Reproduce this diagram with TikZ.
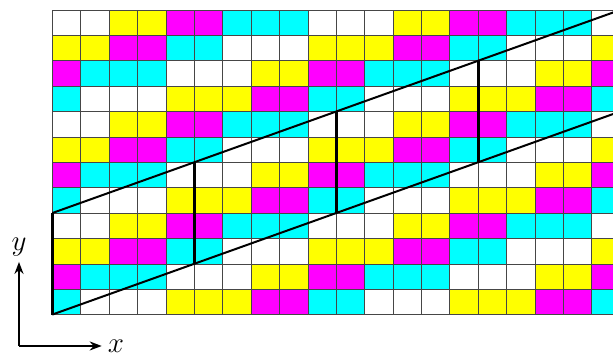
\documentclass[tikz,border=0pt]{standalone}
\usetikzlibrary{arrows.meta}

\definecolor{tile0}{RGB}{255,255,255}
\definecolor{tile1}{RGB}{255,255,0}
\definecolor{tile2}{RGB}{255,0,255}
\definecolor{tile3}{RGB}{0,255,255}

\begin{document}
\begin{tikzpicture}[x=1cm, y=0.894cm, >=Stealth,
    gridline/.style={gray!55!black, line width=0.6pt, step=1},
    strip/.style={line width=2pt},
    cutline/.style={line width=3pt},
    axis/.style={->, line width=2pt},
    axislabel/.style={font=\Huge, scale=1.17, inner sep=0pt}]
    \clip (-1.842,-1.565) rectangle (19.75,12.394);

    % Tile colours: one period of 4 rows x 10 columns (bottom row first)
    \def\tiles{{3,0,0,0,1,1,1,2,2,3,
                2,3,3,3,0,0,0,1,1,2,
                1,1,2,2,3,3,0,0,0,1,
                0,0,1,1,2,2,3,3,3,0}}
    \foreach \r in {0,...,11}
      \foreach \c in {0,...,19}{
        \pgfmathtruncatemacro\t{\tiles[10*mod(\r,4)+mod(\c,10)]}
        \fill[tile\t] (\c,\r) rectangle ++(1,1);
      }
    \draw[gridline] (0,0) grid (20,12);

    % Strip corners along the slope 2/5
    \foreach \i in {0,...,4}{
      \coordinate (A\i) at (5*\i,2*\i);
      \coordinate (B\i) at (5*\i,2*\i+4);
    }
    \draw[strip] (A0) -- (A4);
    \draw[strip] (B0) -- (B4);
    \foreach \i in {0,...,3}
      \draw[cutline] (A\i) -- (B\i);

    % Axes
    \coordinate (O) at (-1.173,-1.238);
    \coordinate (Xend) at (1.74,-1.238);
    \coordinate (Yend) at (-1.173,2.074);
    \draw[axis] (O) -- (Xend);
    \draw[axis] (O) -- (Yend);
    \node[axislabel, right=5pt] (xlab) at (Xend) {$x$};
    \node[axislabel, above=5pt] (ylab) at (Yend) {$y$};
\end{tikzpicture}
\end{document}
